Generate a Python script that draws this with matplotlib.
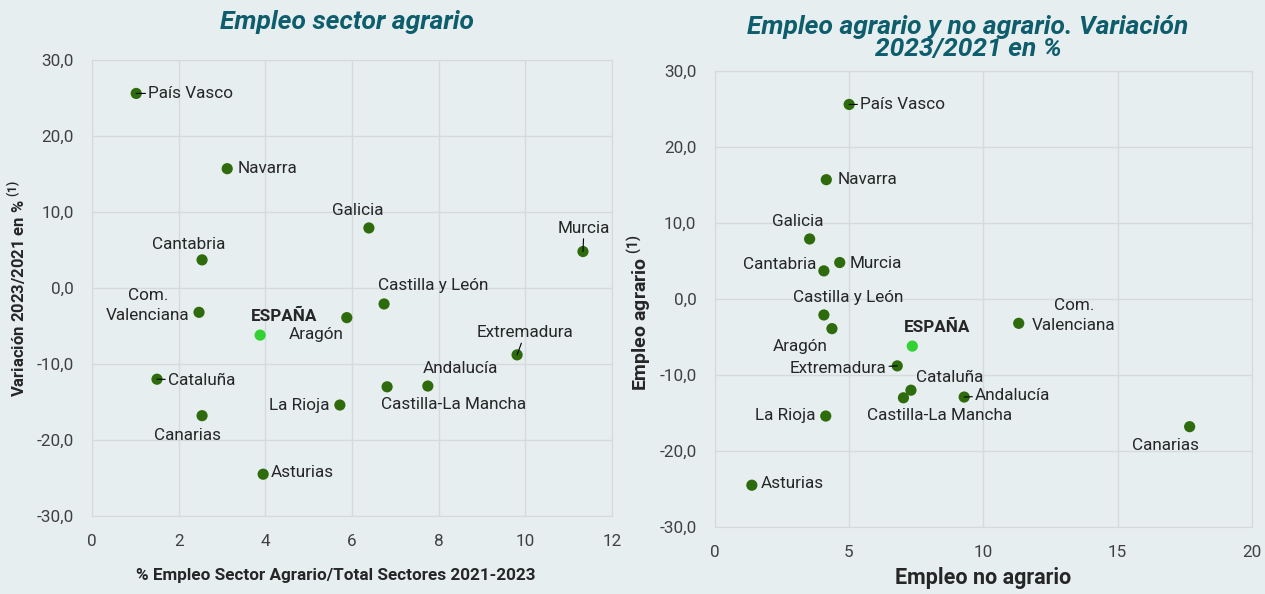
import matplotlib.pyplot as plt
from matplotlib.ticker import FuncFormatter, MultipleLocator

# datos
regiones = ["País Vasco", "Navarra", "Galicia", "Murcia", "Cantabria", "Castilla y León",
            "Com.\nValenciana", "Aragón", "ESPAÑA", "Extremadura", "Cataluña",
            "Castilla-La Mancha", "Andalucía", "La Rioja", "Canarias", "Asturias"]
peso_agrario = [1.02, 3.12, 6.39, 11.33, 2.54, 6.74, 2.47, 5.88, 3.88, 9.81, 1.50,
                6.81, 7.75, 5.72, 2.54, 3.95]
var_agrario = [25.6, 15.7, 7.9, 4.8, 3.7, -2.1, -3.2, -3.9, -6.2, -8.8, -12.0,
               -13.0, -12.9, -15.4, -16.8, -24.5]
var_no_agrario = [5.01, 4.16, 3.54, 4.66, 4.07, 4.07, 11.32, 4.37, 7.36, 6.80, 7.31,
                  7.03, 9.29, 4.14, 17.68, 1.39]

# posiciones de las etiquetas (px): (dx, dy, ha, linea guía)
etq_izq = {
    "País Vasco": (12, 0, "left", True), "Navarra": (10, 0, "left", False),
    "Galicia": (-11, 17, "center", False), "Murcia": (1, 23, "center", True),
    "Cantabria": (-13, 15, "center", False), "Castilla y León": (49, 18, "center", False),
    "Com.\nValenciana": (-51, 7, "center", False), "Aragón": (-31, -17, "center", False),
    "ESPAÑA": (24, 19, "center", False), "Extremadura": (8, 22, "center", True),
    "Cataluña": (11, -1, "left", True), "Castilla-La Mancha": (66, -18, "center", False),
    "Andalucía": (33, 18, "center", False), "La Rioja": (-10, 0, "right", False),
    "Canarias": (-15, -20, "center", False), "Asturias": (8, 2, "left", False),
}
etq_der = {
    "País Vasco": (11, 0, "left", True), "Navarra": (11, 0, "left", False),
    "Galicia": (-12, 17, "center", False), "Murcia": (10, -1, "left", False),
    "Cantabria": (-8, 6, "right", False), "Castilla y León": (24, 17, "center", False),
    "Com.\nValenciana": (55, 8, "center", False), "Aragón": (-32, -18, "center", False),
    "ESPAÑA": (25, 19, "center", False), "Extremadura": (-11, -3, "right", True),
    "Cataluña": (39, 13, "center", False), "Castilla-La Mancha": (36, -18, "center", False),
    "Andalucía": (11, 2, "left", True), "La Rioja": (-10, 1, "right", False),
    "Canarias": (-24, -19, "center", False), "Asturias": (9, 2, "left", False),
}

plt.rcParams['font.family'] = ['Roboto', 'DejaVu Sans']
FONDO = '#E7EEF0'
VERDE = '#2E6B0C'
VERDE_ES = '#33D233'
TITULO = '#0E5D6C'
GRIS = '#D6DADC'

fig = plt.figure(figsize=(12.65, 5.94), dpi=100, facecolor=FONDO)
ax1 = fig.add_axes([92/1265, 78/594, 520/1265, 456/594])
ax2 = fig.add_axes([714.5/1265, 67/594, 537.5/1265, 456/594])

coma = FuncFormatter(lambda v, p: f"{v:.1f}".replace(".", ","))


def dibujar(ax, xs, etq):
    ax.set_facecolor(FONDO)
    colores = [VERDE_ES if r == "ESPAÑA" else VERDE for r in regiones]
    ax.scatter(xs, var_agrario, s=65, c=colores, zorder=3, linewidths=0)
    for r, x, y in zip(regiones, xs, var_agrario):
        dx, dy, ha, guia = etq[r]
        peso = 'bold' if r == "ESPAÑA" else 'normal'
        ax.annotate(r, (x, y), xytext=(dx, dy), textcoords='offset pixels',
                    ha=ha, va='center', fontsize=12.3, color='#262626', fontweight=peso,
                    multialignment='center', linespacing=1.45,
                    arrowprops=dict(arrowstyle='-', color='black', lw=0.8, shrinkA=0, shrinkB=0)
                    if guia else None)
    ax.set_ylim(-30, 30)
    ax.yaxis.set_major_locator(MultipleLocator(10))
    ax.yaxis.set_major_formatter(coma)
    ax.grid(True, color=GRIS, lw=1)
    ax.set_axisbelow(True)
    for s in ax.spines.values():
        s.set_color(GRIS)
    ax.tick_params(length=0, labelsize=12.3, labelcolor='#404040', pad=13)


dibujar(ax1, peso_agrario, etq_izq)
ax1.set_xlim(0, 12)
ax1.xaxis.set_major_locator(MultipleLocator(2))
ax1.set_xlabel("% Empleo Sector Agrario/Total Sectores 2021-2023", fontsize=12.3,
               fontweight='bold', color='#262626')
ax1.xaxis.set_label_coords(0.468, -0.115)
ax1.set_ylabel(r"Variación 2023/2021 en % $^{\mathregular{(1)}}$", fontsize=12,
               fontweight='bold', color='#262626', labelpad=6)

dibujar(ax2, var_no_agrario, etq_der)
ax2.set_xlim(0, 20)
ax2.xaxis.set_major_locator(MultipleLocator(5))
ax2.set_xlabel("Empleo no agrario", fontsize=15.5, fontweight='bold', color='#262626', labelpad=5)
ax2.set_ylabel(r"Empleo agrario $^{\mathregular{(1)}}$", fontsize=14,
               fontweight='bold', color='#262626')
ax2.yaxis.set_label_coords(-0.112, 0.47)

fig.text(347/1265, 1 - 22/594, "Empleo sector agrario", ha='center', va='center',
         fontsize=19, fontweight='bold', fontstyle='italic', color=TITULO)
fig.text(968/1265, 1 - 38/594, "Empleo agrario y no agrario. Variación\n2023/2021 en %",
         ha='center', va='center', fontsize=19, fontweight='bold', fontstyle='italic',
         color=TITULO, linespacing=0.85)

fig.savefig("out.png", dpi=100, facecolor=FONDO)
